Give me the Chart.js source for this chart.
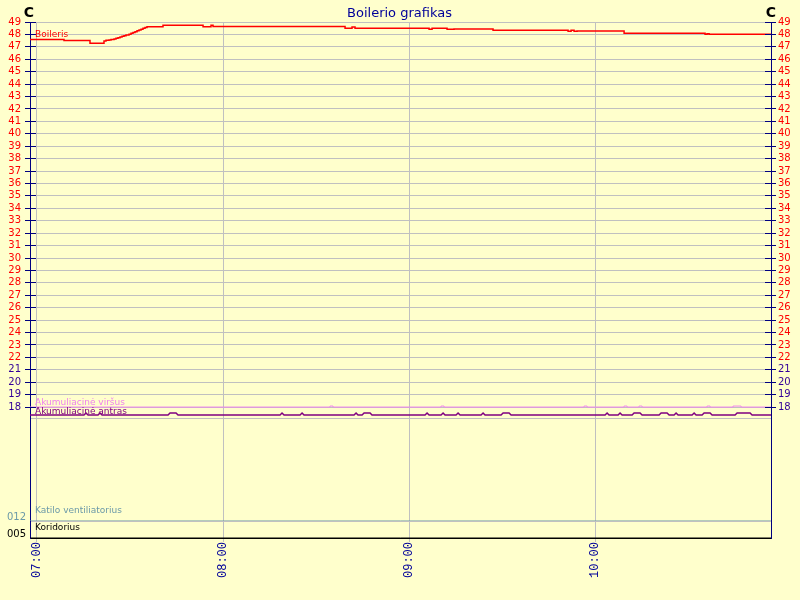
<!DOCTYPE html>
<html>
<head>
<meta charset="utf-8">
<script src="https://cdn.jsdelivr.net/npm/chart.js@4/dist/chart.umd.min.js"></script>
<style>
html,body{margin:0;padding:0;background:#ffffcc;}
canvas{display:block;}
</style>
</head>
<body>
<canvas id="c" width="800" height="600"></canvas>
<script>
const chartTitle = 'Boilerio grafikas';
const unitLabel = 'C';
const xTickLabels = ['07:00', '08:00', '09:00', '10:00'];
const tempTicks = [18,19,20,21,22,23,24,25,26,27,28,29,30,31,32,33,34,35,36,37,38,39,40,41,42,43,44,45,46,47,48,49];
const seriesNames = ['Boileris', 'Akumuliacinė viršus', 'Akumuliacinė antras', 'Katilo ventiliatorius', 'Koridorius'];

const boilerisTimes = ['06:57:45','07:08:43','07:17:06','07:21:37','07:22:16','07:23:14','07:23:53','07:24:51','07:25:29','07:26:08','07:26:47','07:27:26','07:28:04','07:28:43','07:29:41','07:30:20','07:30:59','07:31:37','07:32:16','07:32:55','07:33:34','07:34:12','07:34:51','07:35:29','07:40:39','07:53:34','07:56:08','07:56:47','08:39:22','08:41:37','08:42:35','09:06:28','09:07:26','09:12:16','09:14:31','09:27:06','09:51:18','09:52:16','09:53:14','09:54:12','10:09:22','10:35:29','10:36:08','10:36:47','10:56:45'];
const boilerisValues = [47.60,47.52,47.29,47.47,47.53,47.55,47.59,47.63,47.69,47.74,47.79,47.85,47.90,47.95,48.02,48.09,48.15,48.22,48.29,48.36,48.42,48.49,48.56,48.62,48.73,48.62,48.73,48.64,48.49,48.60,48.49,48.41,48.49,48.41,48.44,48.33,48.25,48.33,48.25,48.28,48.09,48.01,48.06,48.01,48.01];

const virsusTimes = ['06:57:45','08:34:31','08:35:29','09:10:20','09:11:18','09:56:28','09:57:26','10:09:22','10:10:20','10:14:12','10:15:10','10:36:08','10:37:06','10:44:31','10:47:06','10:56:45'];
const virsusValues = [18.00,18.08,18.00,18.08,18.00,18.08,18.00,18.08,18.00,18.08,18.00,18.08,18.00,18.08,18.00,18.00];

const antrasTimes = ['06:57:45','07:15:10','07:15:49','07:16:28','07:19:41','07:20:20','07:20:59','07:42:16','07:42:55','07:44:51','07:45:30','08:18:24','08:19:02','08:19:41','08:24:51','08:25:30','08:26:08','08:42:16','08:42:55','08:43:33','08:44:51','08:45:30','08:47:26','08:48:04','09:05:10','09:05:49','09:06:28','09:10:20','09:10:59','09:11:37','09:15:10','09:15:49','09:16:28','09:23:14','09:23:53','09:24:31','09:29:41','09:30:20','09:32:16','09:32:55','10:03:14','10:03:53','10:04:31','10:07:26','10:08:04','10:08:43','10:11:57','10:12:35','10:14:31','10:15:10','10:20:39','10:21:18','10:23:14','10:23:53','10:25:30','10:26:08','10:26:47','10:31:18','10:31:57','10:32:35','10:34:31','10:35:10','10:37:06','10:37:45','10:45:10','10:45:49','10:50:00','10:50:39','10:56:45'];
const antrasValues = [17.36,17.36,17.52,17.36,17.36,17.52,17.36,17.36,17.52,17.52,17.36,17.36,17.52,17.36,17.36,17.52,17.36,17.36,17.52,17.36,17.36,17.52,17.52,17.36,17.36,17.52,17.36,17.36,17.52,17.36,17.36,17.52,17.36,17.36,17.52,17.36,17.36,17.52,17.52,17.36,17.36,17.52,17.36,17.36,17.52,17.36,17.36,17.52,17.52,17.36,17.36,17.52,17.52,17.36,17.36,17.52,17.36,17.36,17.52,17.36,17.36,17.52,17.52,17.36,17.36,17.52,17.52,17.36,17.36];

const katiloTimes = ['06:57:45','10:56:45'];
const katiloValues = [12, 12];
const koridoriusTimes = ['06:57:45','10:56:45'];
const koridoriusValues = [5, 5];

const TEMP_MIN = 17.12, TEMP_MAX = 49;

function toMin(s) { const p = s.split(':').map(Number); return p[0]*60 + p[1] + (p[2]||0)/60; }
function fmt(m) { const h = Math.floor(m/60), mm = Math.round(m - h*60); return String(h).padStart(2,'0') + ':' + String(mm).padStart(2,'0'); }
function pts(times, vals) { return times.map((t,i) => ({x: toMin(t), y: vals[i]})); }

const X_MIN = toMin(boilerisTimes[0]);
const X_MAX = toMin(boilerisTimes[boilerisTimes.length-1]);

const colors = ['#ff0000', '#ee82ee', '#800080', '#6b99a8', '#000000'];
const NAVY = '#000080';
const GRID = '#c0c0c0';
const FONT = '"DejaVu Sans", Verdana, sans-serif';

const deco = {
  id: 'deco',
  beforeDraw(chart) {
    const c = chart.ctx;
    c.save(); c.fillStyle = '#ffffcc'; c.fillRect(0, 0, chart.width, chart.height); c.restore();
  },
  afterDraw(chart) {
    const c = chart.ctx, a = chart.chartArea, s = chart.scales;
    c.save();
    c.strokeStyle = NAVY; c.lineWidth = 1;
    c.beginPath();
    for (const v of tempTicks) {
      const py = Math.round(s.y.getPixelForValue(v) - 0.5) + 0.5;
      c.moveTo(a.left, py); c.lineTo(a.left + 6, py);
      c.moveTo(a.right - 6, py); c.lineTo(a.right, py);
    }
    c.stroke();
    c.textAlign = 'center'; c.textBaseline = 'alphabetic';
    c.fillStyle = '#000099'; c.font = '13px ' + FONT;
    c.fillText(chartTitle, (a.left + a.right) / 2 - 1, 17);
    c.fillStyle = '#000000'; c.font = 'bold 14px ' + FONT;
    c.fillText(unitLabel, a.left - 1, 17);
    c.fillText(unitLabel, a.right, 17);
    c.textAlign = 'left'; c.font = '9px ' + FONT;
    const firsts = [
      [s.y, boilerisValues[0], 2.5],
      [s.y, virsusValues[0], 2],
      [s.y, antrasValues[0], 1.5],
      [s.yK, katiloValues[0], 8],
      [s.yR, koridoriusValues[0], 8.5]
    ];
    firsts.forEach((f, i) => {
      c.fillStyle = colors[i];
      c.fillText(seriesNames[i], a.left + 5, f[0].getPixelForValue(f[1]) - f[2]);
    });
    c.restore();
  }
};

const tempTickColor = (ctx) => (ctx.tick && ctx.tick.value <= 21) ? '#330099' : '#ff0000';
const isMin = (v) => Math.abs(v - TEMP_MIN) < 1e-6;

new Chart(document.getElementById('c'), {
  type: 'line',
  data: {
    datasets: [
      { label: seriesNames[0], data: pts(boilerisTimes, boilerisValues), borderColor: colors[0], borderWidth: 1.5, stepped: true, yAxisID: 'y' },
      { label: seriesNames[1], data: pts(virsusTimes, virsusValues), borderColor: colors[1], borderWidth: 1, stepped: true, yAxisID: 'y' },
      { label: seriesNames[2], data: pts(antrasTimes, antrasValues), borderColor: colors[2], borderWidth: 1.5, yAxisID: 'y' },
      { label: seriesNames[3], data: pts(katiloTimes, katiloValues), borderColor: colors[3], borderWidth: 1, yAxisID: 'yK' },
      { label: seriesNames[4], data: pts(koridoriusTimes, koridoriusValues), borderColor: colors[4], borderWidth: 1, yAxisID: 'yR' }
    ]
  },
  options: {
    responsive: false,
    animation: false,
    devicePixelRatio: 1,
    layout: { padding: { top: 22, left: 0, right: 0, bottom: 0 } },
    elements: { point: { radius: 0 }, line: { tension: 0, fill: false } },
    plugins: { legend: { display: false }, tooltip: { enabled: false }, title: { display: false } },
    scales: {
      x: {
        type: 'linear', position: 'bottom', min: X_MIN, max: X_MAX,
        afterBuildTicks: (sc) => { sc.ticks = xTickLabels.map(l => ({ value: toMin(l) })); },
        afterFit: (sc) => { sc.height = 62; },
        ticks: { autoSkip: false, minRotation: 90, maxRotation: 90, padding: 0, color: '#000099',
                 font: { family: '"Liberation Mono", "DejaVu Sans Mono", monospace', size: 12 },
                 callback: (v) => fmt(v) },
        grid: { color: GRID, tickLength: 4, tickColor: GRID },
        border: { color: '#000000', width: 1 }
      },
      y: {
        type: 'linear', position: 'left', stack: 'left', stackWeight: 396, weight: 3,
        min: TEMP_MIN, max: TEMP_MAX,
        afterBuildTicks: (sc) => { sc.ticks = [TEMP_MIN].concat(tempTicks).map(v => ({ value: v })); },
        afterFit: (sc) => { sc.width = 30; },
        ticks: { autoSkip: false, padding: 4, color: tempTickColor, font: { family: FONT, size: 10 },
                 callback: (v) => isMin(v) ? '' : String(v) },
        grid: { color: GRID, tickLength: 5, tickColor: (ctx) => (ctx.tick && isMin(ctx.tick.value)) ? 'rgba(0,0,0,0)' : NAVY },
        border: { color: NAVY, width: 1 }
      },
      yK: {
        type: 'linear', position: 'left', stack: 'left', stackWeight: 103, weight: 2,
        min: 12, max: 13,
        afterBuildTicks: (sc) => { sc.ticks = [{ value: 12 }]; },
        afterFit: (sc) => { sc.width = 30; },
        ticks: { autoSkip: false, padding: 4, color: colors[3], font: { family: FONT, size: 10, lineHeight: 0.8 },
                 callback: (v) => [String(v).padStart(3, '0'), ''] },
        grid: { color: GRID, drawTicks: false },
        border: { color: NAVY, width: 1 }
      },
      yR: {
        type: 'linear', position: 'left', stack: 'left', stackWeight: 17, weight: 1,
        min: 5, max: 6,
        afterBuildTicks: (sc) => { sc.ticks = [{ value: 5 }]; },
        afterFit: (sc) => { sc.width = 30; },
        ticks: { autoSkip: false, padding: 4, color: colors[4], font: { family: FONT, size: 10, lineHeight: 0.8 },
                 callback: (v) => [String(v).padStart(3, '0'), ''] },
        grid: { color: GRID, drawTicks: false },
        border: { color: NAVY, width: 1 }
      },
      yRight: {
        type: 'linear', position: 'right', stack: 'right', stackWeight: 396, weight: 1,
        min: TEMP_MIN, max: TEMP_MAX,
        afterBuildTicks: (sc) => { sc.ticks = tempTicks.map(v => ({ value: v })); },
        afterFit: (sc) => { sc.width = 29; },
        ticks: { autoSkip: false, padding: 2, color: tempTickColor, font: { family: FONT, size: 10 } },
        grid: { drawOnChartArea: false, tickLength: 5, tickColor: NAVY },
        border: { color: NAVY, width: 1 }
      },
      yRightRest: {
        type: 'linear', position: 'right', stack: 'right', stackWeight: 120, weight: 2,
        afterFit: (sc) => { sc.width = 29; },
        ticks: { display: false },
        grid: { display: false },
        border: { color: NAVY, width: 1 }
      }
    }
  },
  plugins: [deco]
});
</script>
</body>
</html>
